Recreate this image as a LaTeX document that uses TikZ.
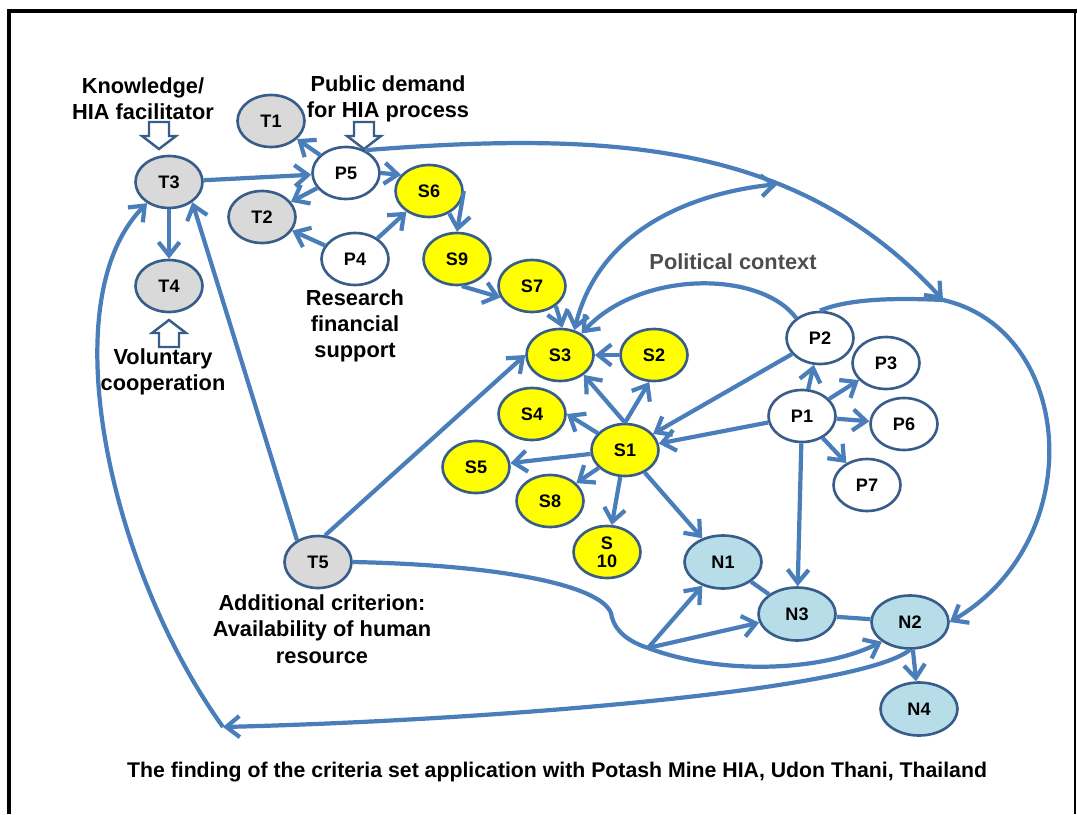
\documentclass[tikz,border=0pt]{standalone}
\usepackage{fontspec}
\setmainfont{Liberation Sans}
\usetikzlibrary{arrows.meta,shapes.geometric}
\definecolor{edgeblue}{HTML}{4A7EBB}
\definecolor{rimblue}{HTML}{385D8A}
\definecolor{tgray}{HTML}{D9D9D9}
\definecolor{syellow}{HTML}{FFFF00}
\definecolor{nblue}{HTML}{B7DEE8}
\definecolor{ctxgray}{HTML}{4D4D4D}
\tikzset{
  pics/openarrow/.style={code={
    \draw[draw=rimblue, fill=white, line width=1.4pt, line join=miter]
      (-10,0) -- (10,0) -- (10,14) -- (17,14) -- (0,27) -- (-17,14) -- (-10,14) -- cycle;}},
}
\begin{document}
\begin{tikzpicture}[x=0.02cm,y=-0.02cm,
  crit/.style={ellipse, draw=rimblue, line width=1.5pt, minimum width=1.34cm,
    minimum height=1.04cm, inner sep=0pt, align=center,
    font=\bfseries\fontsize{10.3}{10.5}\selectfont},
  tnode/.style={crit, fill=tgray},
  pnode/.style={crit, fill=white},
  snode/.style={crit, fill=syellow},
  nnode/.style={crit, fill=nblue, minimum width=1.54cm, minimum height=1.06cm},
  conn/.style={draw=edgeblue, line width=2.4pt},
  arr/.style={conn, -{Straight Barb[length=7.5pt,width=12pt]}},
  biarr/.style={conn, {Straight Barb[length=7.5pt,width=12pt]}-{Straight Barb[length=7.5pt,width=12pt]}},
  lbl/.style={font=\bfseries\fontsize{12.4}{15}\selectfont, align=center},
]
\useasboundingbox (0,0) rectangle (1077,814);

% frame
\draw[line width=2.3pt] (9,814) -- (9,11) -- (1077,11);
\draw[line width=1.2pt] (1075,11) -- (1075,814);

% criteria nodes
\node[tnode] (T1) at (271,121) {T1};
\node[tnode] (T3) at (169,182) {T3};
\node[tnode] (T2) at (262,217) {T2};
\node[tnode] (T4) at (169,286) {T4};
\node[tnode] (T5) at (318,562) {T5};
\node[pnode] (P5) at (346,173) {P5};
\node[pnode] (P4) at (355,259) {P4};
\node[snode] (S6) at (429,191) {S6};
\node[snode] (S9) at (457,259) {S9};
\node[snode] (S7) at (532,286) {S7};
\node[snode] (S3) at (560,355) {S3};
\node[snode] (S2) at (654,355) {S2};
\node[snode] (S4) at (532,414) {S4};
\node[snode] (S1) at (625,450) {S1};
\node[snode] (S5) at (476,467) {S5};
\node[snode] (S8) at (550,501) {S8};
\node[snode] (S10) at (607,552) {S\\10};
\node[pnode] (P2) at (820,338) {P2};
\node[pnode] (P3) at (886,363) {P3};
\node[pnode] (P1) at (802,416) {P1};
\node[pnode] (P6) at (904,424) {P6};
\node[pnode] (P7) at (867,485) {P7};
\node[nnode] (N1) at (723,562) {N1};
\node[nnode] (N3) at (797,614) {N3};
\node[nnode] (N2) at (910,622) {N2};
\node[nnode] (N4) at (919,709) {N4};

% labels
\node[lbl] (kn) at (143,99) {Knowledge/\\HIA facilitator};
\node[lbl] (pd) at (388,99) {Public demand\\for HIA process};
\node[lbl] (rf) at (355,326) {Research\\financial\\support};
\node[lbl] (vc) at (163,372) {Voluntary\\cooperation};
\node[lbl, text=ctxgray] (pc) at (733,262) {Political context};
\node[lbl] (ac) at (322,629) {Additional criterion:\\Availability of human\\resource};
\node[lbl, font=\bfseries\fontsize{12.1}{15}\selectfont] (cap) at (557,772)
  {The finding of the criteria set application with Potash Mine HIA, Udon Thani, Thailand};

% hollow input arrows
\pic at (159,122) {openarrow};
\pic at (364,122) {openarrow};
\pic[yscale=-1] at (169,347) {openarrow};

% junction points
\coordinate (M) at (943,300);
\coordinate (J) at (648,648);
\coordinate (K) at (223,727);

% straight connectors
\draw[arr] (T3) -- (P5);
\draw[arr] (T3) -- (T4);
\draw[arr] (P5) -- (T1);
\draw[arr] (P5) -- (T2);
\draw[arr] (P5.east) -- (S6.150);
\draw[arr] (P4) -- (T2);
\draw[arr] (P4) -- (S6);
\draw[arr] (S6.east) -- (S9.north);
\draw[arr] (S9.-80) -- (S7.200);
\draw[arr] (S7.-40) -- (S3.85);
\draw[arr] (S2) -- (S3);
\draw[arr] (S1.north) -- (S3.-40);
\draw[arr] (S1.north) -- (S2.-100);
\draw[arr] (S1) -- (S4.east);
\draw[arr] (S1) -- (S5);
\draw[arr] (S1) -- (S8);
\draw[arr] (S1) -- (S10);
\draw[arr] (S1) -- (N1);
\draw[arr] (P2) -- (S1);
\draw[arr] (P1) -- (S1);
\draw[arr] (P1) -- (P2);
\draw[arr] (P1) -- (P3);
\draw[arr] (P1) -- (P6);
\draw[arr] (P1) -- (P7);
\draw[arr] (P1) -- (N3);
\draw[conn] (N1) -- (N3);
\draw[conn] (N3) -- (N2);
\draw[arr] (N2) -- (N4);
\draw[arr] (T5.75) -- (S3.west);
\draw[arr] (T5.134) -- (T3.-41);

% curved connectors
\draw[arr] (P5.50) .. controls (620,130) and (800,145) .. (M) coordinate[pos=0.65] (Q);
\draw[arr] (P2.north) .. controls (850,298) and (900,298) .. (M)
  .. controls (1075,330) and (1090,540) .. (N2.east);
\draw[arr] (P2.140) .. controls (760,270) and (640,270) .. (S3.45);
\draw[biarr] (Q) .. controls (700,192) and (600,225) .. (S3.60);
\draw[conn] (T5.east) .. controls (500,565) and (600,585) .. (611,613)
  .. controls (614,632) and (630,642) .. (J);
\draw[arr] (J) .. controls (720,675) and (820,672) .. (N2.215);
\draw[arr] (J) -- (N1);
\draw[arr] (J) -- (N3);
\draw[arr] (N2.south) .. controls (860,690) and (500,720) .. (K);
\draw[arr] (K) .. controls (110,570) and (50,300) .. (T3.-136);
\end{tikzpicture}
\end{document}
